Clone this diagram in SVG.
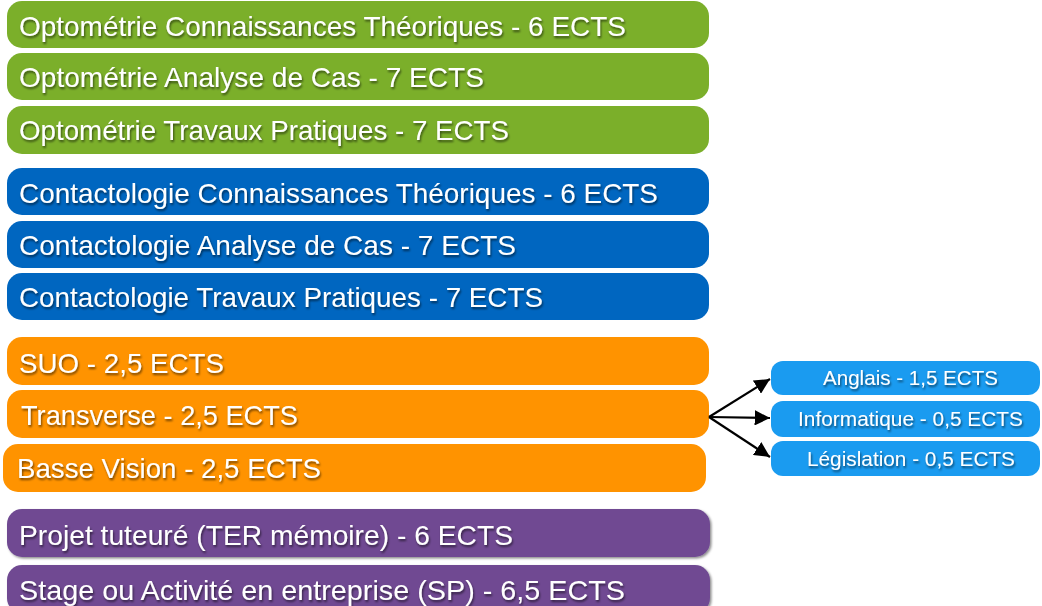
<svg xmlns="http://www.w3.org/2000/svg" width="1042" height="606" viewBox="0 0 1042 606">
<defs>
<style>
.t{font-family:"Liberation Sans",Arial,sans-serif;font-size:28px;fill:#fff;filter:url(#ts)}
.s{font-family:"Liberation Sans",Arial,sans-serif;font-size:20.5px;fill:#fff;filter:url(#ts)}
.g{fill:#7BAF2A}
.b{fill:#0066C0}
.o{fill:#FF9300}
.p{fill:#6F4A92;filter:url(#bs)}
.l{fill:#1A9BF0}
.c{stroke:#000;stroke-width:2.2;fill:none}
</style>
<filter id="ts" x="-5%" y="-30%" width="110%" height="160%">
<feDropShadow dx="1" dy="2" stdDeviation="1.2" flood-color="#000" flood-opacity="0.55"/>
</filter>
<filter id="bs" x="-5%" y="-20%" width="110%" height="150%">
<feDropShadow dx="1.5" dy="1.5" stdDeviation="1.2" flood-color="#000" flood-opacity="0.45"/>
</filter>
<marker id="ah" viewBox="0 0 10 10" refX="10" refY="5" markerWidth="7" markerHeight="7" markerUnits="strokeWidth" orient="auto">
<path d="M0,0 L10,5 L0,10 z" fill="#000"/>
</marker>
</defs>
<g id="opto1"><rect class="g" x="7" y="1" width="702" height="47" rx="15"/><text class="t" x="19" y="36" textLength="607" lengthAdjust="spacingAndGlyphs">Optométrie Connaissances Théoriques - 6 ECTS</text></g>
<g id="opto2"><rect class="g" x="7" y="53" width="702" height="47" rx="15"/><text class="t" x="19" y="87" textLength="465" lengthAdjust="spacingAndGlyphs">Optométrie Analyse de Cas - 7 ECTS</text></g>
<g id="opto3"><rect class="g" x="7" y="106" width="702" height="48" rx="15"/><text class="t" x="19" y="140" textLength="490" lengthAdjust="spacingAndGlyphs">Optométrie Travaux Pratiques - 7 ECTS</text></g>
<g id="contact1"><rect class="b" x="7" y="168" width="702" height="47" rx="15"/><text class="t" x="19" y="203" textLength="639" lengthAdjust="spacingAndGlyphs">Contactologie Connaissances Théoriques - 6 ECTS</text></g>
<g id="contact2"><rect class="b" x="7" y="221" width="702" height="47" rx="15"/><text class="t" x="19" y="255" textLength="497" lengthAdjust="spacingAndGlyphs">Contactologie Analyse de Cas - 7 ECTS</text></g>
<g id="contact3"><rect class="b" x="7" y="273" width="702" height="47" rx="15"/><text class="t" x="19" y="307" textLength="524" lengthAdjust="spacingAndGlyphs">Contactologie Travaux Pratiques - 7 ECTS</text></g>
<g id="suo"><rect class="o" x="7" y="337" width="702" height="48" rx="15"/><text class="t" x="19" y="373" textLength="205" lengthAdjust="spacingAndGlyphs">SUO - 2,5 ECTS</text></g>
<g id="transverse"><rect class="o" x="7" y="390" width="702" height="48" rx="15"/><text class="t" x="21" y="425" textLength="277" lengthAdjust="spacingAndGlyphs">Transverse - 2,5 ECTS</text></g>
<g id="basse"><rect class="o" x="3" y="444" width="703" height="48" rx="15"/><text class="t" x="17" y="478" textLength="304" lengthAdjust="spacingAndGlyphs">Basse Vision - 2,5 ECTS</text></g>
<g id="projet"><rect class="p" x="7" y="509" width="703" height="48" rx="15"/><text class="t" x="19" y="545" textLength="494" lengthAdjust="spacingAndGlyphs">Projet tuteuré (TER mémoire) - 6 ECTS</text></g>
<g id="stage"><rect class="p" x="7" y="565" width="703" height="48" rx="15"/><text class="t" x="19" y="600" textLength="606" lengthAdjust="spacingAndGlyphs">Stage ou Activité en entreprise (SP) - 6,5 ECTS</text></g>
<g id="anglais"><rect class="l" x="771" y="361" width="269" height="34" rx="12"/><text class="s" x="823" y="385" textLength="175" lengthAdjust="spacingAndGlyphs">Anglais - 1,5 ECTS</text></g>
<g id="informatique"><rect class="l" x="771" y="401" width="269" height="36" rx="12"/><text class="s" x="798" y="426" textLength="225" lengthAdjust="spacingAndGlyphs">Informatique - 0,5 ECTS</text></g>
<g id="legislation"><rect class="l" x="771" y="441" width="269" height="35" rx="12"/><text class="s" x="807" y="466" textLength="208" lengthAdjust="spacingAndGlyphs">Législation - 0,5 ECTS</text></g>
<g id="connectors">
<line class="c" x1="709" y1="417" x2="770" y2="379" marker-end="url(#ah)"/>
<line class="c" x1="709" y1="417" x2="770" y2="418" marker-end="url(#ah)"/>
<line class="c" x1="709" y1="417" x2="770" y2="457" marker-end="url(#ah)"/>
</g>
</svg>
